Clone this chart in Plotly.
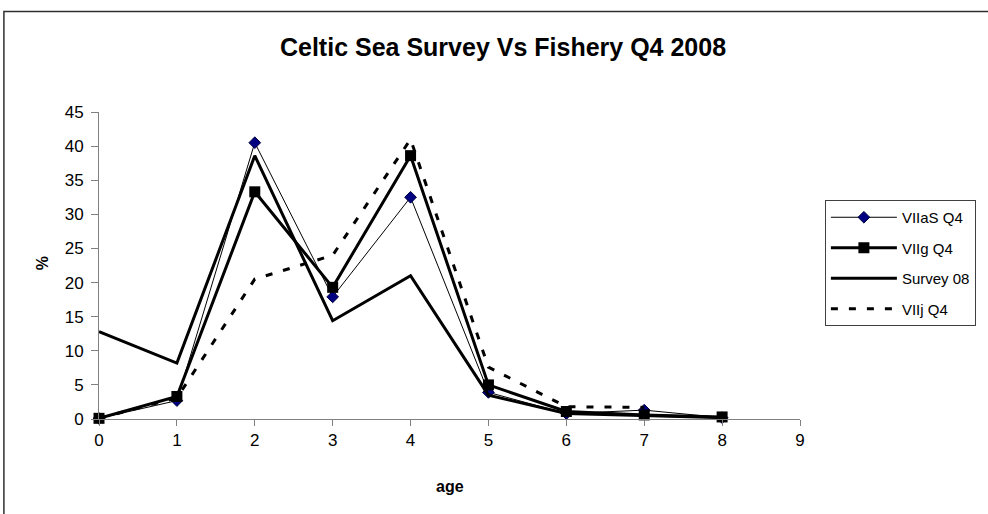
import plotly.graph_objects as go

ages = [0, 1, 2, 3, 4, 5, 6, 7, 8]
ages_j = [0, 1, 2, 3, 4, 5, 6, 7]
viias_q4 = [0.1, 2.7, 40.5, 17.9, 32.5, 3.9, 0.8, 1.3, 0.2]
viig_q4 = [0.1, 3.3, 33.3, 19.3, 38.6, 5.0, 1.1, 0.6, 0.3]
survey_08 = [12.8, 8.2, 38.6, 14.4, 21.0, 3.5, 0.8, 0.5, 0.2]
viij_q4 = [0.1, 3.1, 20.5, 24.0, 41.0, 7.6, 1.8, 1.7]

x_ticks = [0, 1, 2, 3, 4, 5, 6, 7, 8, 9]
y_ticks = [0, 5, 10, 15, 20, 25, 30, 35, 40, 45]

FONT = "Liberation Sans, Arial, sans-serif"

fig = go.Figure()
fig.add_trace(go.Scatter(
    x=ages, y=viias_q4, name="VIIaS Q4", mode="lines+markers", legendgroup="a",
    line=dict(color="black", width=1),
    marker=dict(symbol="diamond", size=9, color="#000080", line=dict(color="#000040", width=1)),
))
fig.add_trace(go.Scatter(
    x=ages, y=viig_q4, name="VIIg Q4", mode="lines+markers", legendgroup="b",
    line=dict(color="black", width=3),
    marker=dict(symbol="square", size=11, color="black"),
))
fig.add_trace(go.Scatter(
    x=ages, y=survey_08, name="Survey 08", mode="lines", legendgroup="c",
    line=dict(color="black", width=3),
))
fig.add_trace(go.Scatter(
    x=ages_j, y=viij_q4, name="VIIj Q4", mode="lines", legendgroup="d",
    line=dict(color="black", width=3, dash="7px,11px"),
))

L, R, T, B = 99, 185, 112, 95
W, H = 988, 514
pw = W - L - R
ph = H - T - B

def px_x(p):
    return (p - L) / pw

def px_y(p):
    return (H - B - p) / ph

fig.update_layout(
    width=W, height=H,
    margin=dict(l=L, r=R, t=T, b=B),
    paper_bgcolor="white", plot_bgcolor="white",
    font=dict(family=FONT, color="black", size=16),
    title=dict(text="<b>Celtic Sea Survey Vs Fishery Q4 2008</b>", x=503 / W, xref="container",
               xanchor="center", y=1 - 47 / H, yref="container", yanchor="middle",
               font=dict(family=FONT, size=25, color="black")),
    showlegend=True,
    legend=dict(x=px_x(828), y=px_y(200), xanchor="left", yanchor="top",
                bgcolor="white", bordercolor="#404040", borderwidth=1,
                font=dict(family=FONT, size=15, color="black"),
                tracegroupgap=8, itemwidth=66),
    xaxis=dict(range=[0, 9], tickmode="array", tickvals=x_ticks, ticktext=[str(v) for v in x_ticks],
               showgrid=False, zeroline=False, showline=True, linecolor="#808080", linewidth=1,
               ticks="outside", ticklen=6, tickcolor="#808080", tickwidth=1,
               tickfont=dict(family=FONT, size=17, color="black")),
    yaxis=dict(range=[0, 45], tickmode="array", tickvals=y_ticks, ticktext=[str(v) for v in y_ticks],
               showgrid=False, zeroline=False, showline=True, linecolor="#808080", linewidth=1,
               ticks="outside", ticklen=7, tickcolor="#808080", tickwidth=1,
               ticklabelstandoff=4,
               tickfont=dict(family=FONT, size=17, color="black")),
    annotations=[
        dict(text="<b>%</b>", x=px_x(42), y=px_y(263), xref="paper", yref="paper",
             xanchor="center", yanchor="middle",
             showarrow=False, textangle=-90, font=dict(family=FONT, size=16, color="black")),
        dict(text="<b>age</b>", x=px_x(452), y=px_y(486), xref="paper", yref="paper",
             xanchor="center", yanchor="middle",
             showarrow=False, font=dict(family=FONT, size=16, color="black")),
    ],
    shapes=[
        dict(type="rect", xref="paper", yref="paper",
             x0=px_x(3.5), x1=px_x(1200), y0=px_y(700), y1=px_y(11.5),
             line=dict(color="#303030", width=1.5), fillcolor="rgba(0,0,0,0)", layer="below"),
    ],
)
fig.update_traces(cliponaxis=False)

fig.write_html("out.html", config={"displayModeBar": False},
               post_script="document.body.style.margin='0';")
